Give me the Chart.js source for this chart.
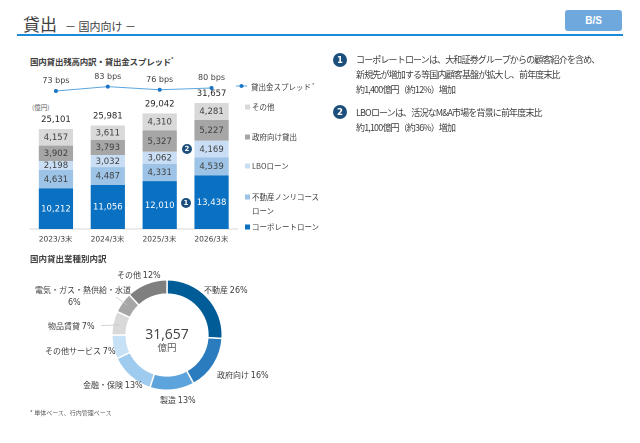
<!DOCTYPE html>
<html lang="ja">
<head>
<meta charset="utf-8">
<script src="https://cdn.jsdelivr.net/npm/chart.js@4.4.1/dist/chart.umd.min.js"></script>
<style>
  html, body { margin: 0; padding: 0; background: #fff; }
  body { width: 640px; height: 443px; position: relative; overflow: hidden;
         font-family: "Noto Sans CJK JP", "DejaVu Sans", sans-serif; color: #404040; }
  .t { position: absolute; white-space: nowrap; line-height: 1; transform: translateY(-50%); }
  .num { font-family: "DejaVu Sans", sans-serif; }
  canvas { position: absolute; }
  .sq { position: absolute; width: 5px; height: 5px; transform: translateY(-50%); }
  .badge { position: absolute; border-radius: 50%; background: #1d4f7c; color: #fff;
           font: bold 8px "DejaVu Sans", sans-serif; display: flex; align-items: center; justify-content: center; }
  .lg { font-size: 7.5px; color: #404040; }
  .dl { font-size: 8px; color: #404040; }
  .body { position: absolute; left: 356px; font-size: 9px; letter-spacing: -0.85px; line-height: 15px; color: #404040; white-space: nowrap; }
</style>
</head>
<body>
<!-- header -->
<div class="t" style="left:23px;top:23px;font-size:17px;">貸出<span style="font-size:11px;margin-left:8px;">－ 国内向け －</span></div>
<div style="position:absolute;left:17px;top:34px;width:606px;height:1.5px;background:#1b8ad8;"></div>
<div style="position:absolute;left:565px;top:10px;width:57px;height:21px;border-radius:3px;background:#6fa8dc;color:#fff;font:bold 10px 'Liberation Sans',sans-serif;display:flex;align-items:center;justify-content:center;">B/S</div>

<!-- bar chart -->
<div class="t" style="left:30px;top:61px;font-size:8.5px;font-weight:bold;letter-spacing:-0.2px;">国内貸出残高内訳・貸出金スプレッド<sup style="font-size:5px;">*</sup></div>
<div class="t" style="left:32px;top:107px;font-size:6.5px;color:#595959;">(億円)</div>
<canvas id="barChart" width="260" height="260" style="left:0;top:0;"></canvas>

<svg style="position:absolute;left:236px;top:82px;" width="12" height="8"><line x1="0" y1="4" x2="11" y2="4" stroke="#5aa5de" stroke-width="1"/><circle cx="5.5" cy="4" r="2" fill="#1a75c7"/></svg>
<div class="t lg" style="left:251px;top:86px;">貸出金スプレッド<sup style="font-size:5px;"> *</sup></div>
<div class="sq" style="left:245px;top:107px;background:#d9d9d9;"></div>
<div class="t lg" style="left:252px;top:107px;">その他</div>
<div class="sq" style="left:245px;top:137px;background:#a6a6a6;"></div>
<div class="t lg" style="left:252px;top:137px;">政府向け貸出</div>
<div class="sq" style="left:245px;top:166px;background:#c9def4;"></div>
<div class="t lg" style="left:252px;top:166px;">LBOローン</div>
<div class="sq" style="left:245px;top:197px;background:#9dc3e6;"></div>
<div class="t lg" style="left:252px;top:197px;">不動産ノンリコース</div>
<div class="t lg" style="left:252px;top:211px;">ローン</div>
<div class="sq" style="left:245px;top:227px;background:#0a70c2;"></div>
<div class="t lg" style="left:252px;top:227px;">コーポレートローン</div>

<div class="badge" style="left:182px;top:144px;width:10px;height:10px;font-size:7px;">2</div>
<div class="badge" style="left:181px;top:198px;width:10px;height:10px;font-size:7px;">1</div>

<!-- doughnut -->
<div class="t" style="left:30px;top:258px;font-size:8.5px;font-weight:bold;">国内貸出業種別内訳</div>
<canvas id="pieChart" width="112" height="112" style="left:111px;top:279px;"></canvas>
<div class="t" style="left:167px;top:333px;transform:translate(-50%,-50%);font:14px 'Open Sans',sans-serif;color:#404040;">31,657</div>
<div class="t" style="left:167px;top:348px;transform:translate(-50%,-50%);font-size:9.5px;color:#595959;">億円</div>

<svg style="position:absolute;left:0;top:0;" width="640" height="443">
  <line x1="116" y1="297" x2="127" y2="305" stroke="#c8c8c8" stroke-width="0.8"/>
  <line x1="101" y1="325.5" x2="119" y2="325" stroke="#c8c8c8" stroke-width="0.8"/>
</svg>
<div class="t dl" style="left:117px;top:275px;">その他 <span class="num">12%</span></div>
<div class="t dl" style="left:204px;top:290px;">不動産 <span class="num">26%</span></div>
<div class="t dl" style="left:35px;top:290px;">電気・ガス・熱供給・水道</div>
<div class="t dl num" style="left:68px;top:303px;">6%</div>
<div class="t dl" style="left:48px;top:326px;">物品賃貸 <span class="num">7%</span></div>
<div class="t dl" style="left:45px;top:351px;">その他サービス <span class="num">7%</span></div>
<div class="t dl" style="left:83px;top:385px;">金融・保険 <span class="num">13%</span></div>
<div class="t dl" style="left:160px;top:400px;">製造 <span class="num">13%</span></div>
<div class="t dl" style="left:217px;top:375px;">政府向け <span class="num">16%</span></div>

<div class="t" style="left:30px;top:413px;font-size:6px;color:#595959;">* 単体ベース、行内管理ベース</div>

<!-- right text -->
<div class="badge" style="left:333px;top:53px;width:14px;height:14px;font-size:8.5px;">1</div>
<div class="body" style="top:52px;">コーポレートローンは、大和証券グループからの顧客紹介を含め、<br>新規先が増加する等国内顧客基盤が拡大し、前年度末比<br>約1,400億円（約12%）増加</div>
<div class="badge" style="left:333px;top:105px;width:14px;height:14px;font-size:8.5px;">2</div>
<div class="body" style="top:104.5px;">LBOローンは、活況なM&amp;A市場を背景に前年度末比<br>約1,100億円（約36%）増加</div>

<script>
// ---- data ----
const periods = ["2023/3末", "2024/3末", "2025/3末", "2026/3末"];
const corporateLoan = [10212, 11056, 12010, 13438];
const realEstateNonRecourse = [4631, 4487, 4331, 4539];
const lboLoan = [2198, 3032, 3062, 4169];
const governmentLoan = [3902, 3793, 5327, 5227];
const otherLoan = [4157, 3611, 4310, 4281];
const totals = [25101, 25981, 29042, 31657];
const spreadBps = [73, 83, 76, 80];

const industryLabels = ["不動産", "政府向け", "製造", "金融・保険", "その他サービス", "物品賃貸", "電気・ガス・熱供給・水道", "その他"];
const industryShare = [26, 16, 13, 13, 7, 7, 6, 12];

const fmt = v => v.toLocaleString("en-US");

/** --------------- value labels ---------------- */
const valueLabels = {
    id: "valueLabels",
    afterDatasetsDraw(chart) {
        const ctx = chart.ctx;
        ctx.save();
        ctx.textAlign = "center";
        ctx.textBaseline = "middle";
        let lastBar = 0;
        chart.data.datasets.forEach((ds, i) => {
            const meta = chart.getDatasetMeta(i);
            if (ds.type === "line") {
                ctx.font = '8px "DejaVu Sans"';
                ctx.fillStyle = "#404040";
                meta.data.forEach((pt, j) => ctx.fillText(spreadBps[j] + " bps", pt.x, pt.y - 10));
                return;
            }
            lastBar = i;
            ctx.font = '8.5px "DejaVu Sans"';
            ctx.fillStyle = ds.data === corporateLoan ? "#ffffff" : "#404040";
            meta.data.forEach((bar, j) => ctx.fillText(fmt(ds.data[j]), bar.x, (bar.y + bar.base) / 2 + 0.5));
        });
        ctx.font = '8.5px "DejaVu Sans"';
        ctx.fillStyle = "#262626";
        chart.getDatasetMeta(lastBar).data.forEach((bar, j) => ctx.fillText(fmt(totals[j]), bar.x, bar.y - 9));
        ctx.restore();
    }
};

/** --------------- Balance / Spread Chart ---------------- */
new Chart(document.getElementById("barChart").getContext("2d"), {
    type: "bar",
    data: {
        labels: periods,
        datasets: [
            { type: "line", label: "貸出金スプレッド", data: spreadBps, yAxisID: "y2", order: 0,
              borderColor: "#5aa5de", borderWidth: 1, pointRadius: 2, pointBackgroundColor: "#1a75c7",
              pointBorderWidth: 0, tension: 0 },
            { label: "コーポレートローン", data: corporateLoan, backgroundColor: "#0a70c2", order: 1 },
            { label: "不動産ノンリコースローン", data: realEstateNonRecourse, backgroundColor: "#9dc3e6", order: 1 },
            { label: "LBOローン", data: lboLoan, backgroundColor: "#c9def4", order: 1 },
            { label: "政府向け貸出", data: governmentLoan, backgroundColor: "#a6a6a6", order: 1 },
            { label: "その他", data: otherLoan, backgroundColor: "#d9d9d9", order: 1 },
        ],
    },
    options: {
        responsive: false,
        animation: false,
        devicePixelRatio: 2,
        categoryPercentage: 1,
        barPercentage: 0.66,
        layout: { padding: { left: 30, right: 22.5, top: 69.7, bottom: 11 } },
        scales: {
            x: {
                stacked: true,
                grid: { display: false, drawTicks: false },
                border: { display: true, color: "#d9d9d9" },
                ticks: { color: "#404040", font: { family: "DejaVu Sans", size: 7.5 }, padding: 6 },
                afterFit: axis => { axis.height = 20; },
            },
            y: { stacked: true, display: false, min: 0, max: 40000 },
            y2: { display: false, min: -248, max: 122.5 },
        },
        plugins: {
            legend: { display: false },
            tooltip: { enabled: false },
        },
    },
    plugins: [valueLabels],
});

/** --------------- Industry Doughnut ---------------- */
new Chart(document.getElementById("pieChart").getContext("2d"), {
    type: "doughnut",
    data: {
        labels: industryLabels,
        datasets: [{
            data: industryShare,
            backgroundColor: ["#005c97", "#2b7bbf", "#5da4dd", "#9fcbee", "#c6e0f5", "#d9d9d9", "#a6a6a6", "#7f7f7f"],
            borderColor: "#ffffff",
            borderWidth: 1.5,
        }],
    },
    options: {
        responsive: false,
        animation: false,
        devicePixelRatio: 2,
        cutout: "74%",
        plugins: { legend: { display: false }, tooltip: { enabled: false } },
    },
});
</script>
</body>
</html>
